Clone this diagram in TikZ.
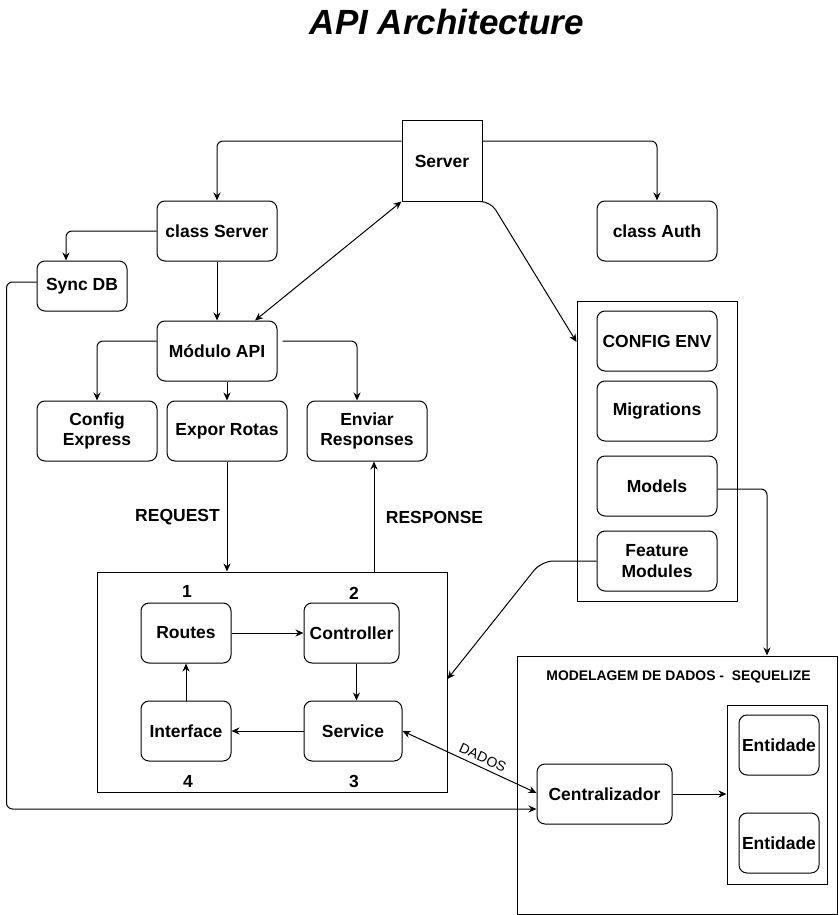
\documentclass[tikz,border=0pt]{standalone}
\usepackage{fontspec}
\setmainfont{Liberation Sans}
\usetikzlibrary{arrows.meta}
\begin{document}
\begin{tikzpicture}[x=1pt,y=-1pt,
  every path/.style={line width=1pt},
  lbl/.style={font=\bfseries\fontsize{17.5}{20.5}\selectfont, inner sep=0pt, align=center},
  rbox/.style={draw, rounded corners=8pt, align=center, inner sep=0pt,
    font=\bfseries\fontsize{17.5}{20.5}\selectfont},
  sbox/.style={draw, inner sep=0pt},
  arr/.style={-{Stealth[length=8pt,width=7pt]}},
  arrb/.style={{Stealth[length=8pt,width=7pt]}-{Stealth[length=8pt,width=7pt]}}
]
\useasboundingbox (0,0) rectangle (838,915);

% title
\node[font=\bfseries\itshape\fontsize{35}{40}\selectfont] (title) at (447,22) {API Architecture};

% top nodes
\node[sbox, minimum width=80pt, minimum height=80pt, font=\bfseries\fontsize{17.5}{20.5}\selectfont] (server) at (442,161) {Server};
\node[rbox, minimum width=120pt, minimum height=60pt] (cserver) at (217,231) {class Server};
\node[rbox, minimum width=120pt, minimum height=60pt] (cauth) at (657,231) {class Auth};
\node[rbox, minimum width=90pt, minimum height=50pt] (sync) at (82,286) {Sync DB};
\node[rbox, minimum width=120pt, minimum height=60pt] (mod) at (217,351) {Módulo API};
\node[rbox, minimum width=120pt, minimum height=60pt] (cfg) at (97,431) {Config\\Express};
\node[rbox, minimum width=120pt, minimum height=60pt] (expor) at (227,431) {Expor Rotas};
\node[rbox, minimum width=120pt, minimum height=60pt] (enviar) at (367,431) {Enviar\\Responses};

\node[lbl] (req) at (177.5,517) {REQUEST};
\node[lbl] (resp) at (434.5,517) {RESPONSE};

% main box
\node[sbox, minimum width=350pt, minimum height=220pt] (mainbox) at (272,682) {};
\node[rbox, minimum width=90pt, minimum height=60pt] (routes) at (186,633) {Routes};
\node[rbox, minimum width=95pt, minimum height=60pt] (ctrl) at (351.5,633) {Controller};
\node[rbox, minimum width=90pt, minimum height=60pt] (iface) at (186,731) {Interface};
\node[rbox, minimum width=98pt, minimum height=60pt] (serv) at (353,731) {Service};
\node[lbl] (n1) at (187,591) {1};
\node[lbl] (n2) at (354,593) {2};
\node[lbl] (n3) at (354,781) {3};
\node[lbl] (n4) at (188,781) {4};

% right container
\node[sbox, minimum width=160pt, minimum height=300pt] (rc) at (657,451) {};
\node[rbox, minimum width=120pt, minimum height=60pt] (cenv) at (657,341) {CONFIG ENV};
\node[rbox, minimum width=120pt, minimum height=60pt] (migr) at (657,411) {Migrations};
\node[rbox, minimum width=120pt, minimum height=60pt] (models) at (657,486) {Models};
\node[rbox, minimum width=120pt, minimum height=60pt] (feat) at (657,561) {Feature\\Modules};

% modelagem
\node[sbox, minimum width=320pt, minimum height=258pt] (modbox) at (677,785) {};
\node[font=\bfseries\fontsize{13.9}{16}\selectfont, inner sep=0pt] (modtitle) at (678.5,677) {MODELAGEM DE DADOS -\ \ SEQUELIZE};
\node[sbox, minimum width=100pt, minimum height=179pt] (entbox) at (777,794.5) {};
\node[rbox, minimum width=80pt, minimum height=60pt] (ent1) at (779,745) {Entidade};
\node[rbox, minimum width=80pt, minimum height=60pt] (ent2) at (779,843) {Entidade};
\node[rbox, minimum width=135pt, minimum height=60pt] (cent) at (604.5,794) {Centralizador};

% connectors
\draw[arr, rounded corners=6pt] ([yshift=20pt]server.west) -| (cserver.north);
\draw[arr, rounded corners=6pt] ([yshift=20pt]server.east) -| (cauth.north);
\draw[arr, rounded corners=6pt] (cserver.west) -| ([xshift=-16pt]sync.north);
\draw[arr] (cserver.south) -- (mod.north);
\draw[arrb] ([xshift=38pt]mod.north) -- (server.south west);
\draw[arr, rounded corners=10pt] (server.south east) -- ([xshift=8pt]server.south east) -- ([yshift=109pt]rc.west);
\draw[arr, rounded corners=6pt] ([yshift=10pt]mod.west) -| (cfg.north);
\draw[arr] (expor.north |- mod.south) -- (expor.north);
\draw[arr, rounded corners=6pt] ([xshift=5pt,yshift=10pt]mod.east) -| ([xshift=-10pt]enviar.north);
\draw[arr] (expor.south) -- (expor.south |- mainbox.north);
\draw[arr] ([xshift=7pt]enviar.south |- mainbox.north) -- ([xshift=7pt]enviar.south);
\draw[arr] (routes.east) -- (ctrl.west);
\draw[arr] ([xshift=5pt]ctrl.south) -- ([xshift=5pt]ctrl.south |- serv.north);
\draw[arr] (serv.west) -- (iface.east);
\draw[arr] (iface.north) -- (routes.south);
\draw[arr, rounded corners=12pt] (feat.west) -- ([xshift=-55pt]feat.west) -- ([yshift=3pt]mainbox.east);
\draw[arr, rounded corners=6pt] ([yshift=-3pt]models.east) -| ([xshift=90pt]modbox.north);
\draw[arrb] (serv.east) -- ([yshift=1pt]cent.west)
  node[pos=0.57, anchor=south, rotate=-24.5, inner sep=4pt, font=\fontsize{14}{16}\selectfont] (dados) {DADOS};
\draw[arr, rounded corners=6pt] ([yshift=4pt]sync.west) -- ([xshift=-30pt,yshift=4pt]sync.west) |- ([yshift=-15pt]cent.west);
\draw[arr] (cent.east) -- (cent.east -| entbox.west);
\end{tikzpicture}
\end{document}
